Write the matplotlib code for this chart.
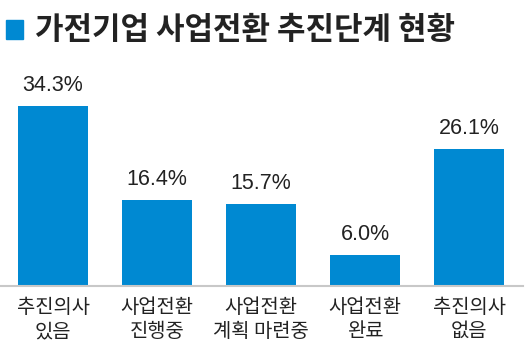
import matplotlib.pyplot as plt
from matplotlib.patches import Rectangle

plt.rcParams['font.family'] = ['Noto Sans CJK KR', 'DejaVu Sans']

categories = ['추진의사\n있음', '사업전환\n진행중', '사업전환\n계획 마련중', '사업전환\n완료', '추진의사\n없음']
values = [34.3, 16.4, 15.7, 6.0, 26.1]
value_labels = ['34.3%', '16.4%', '15.7%', '6.0%', '26.1%']

blue = '#0089d2'
W, H = 531, 354

fig = plt.figure(figsize=(W / 100, H / 100), dpi=100)
ax = fig.add_axes([0, (H - 286) / H, 1, (286 - 60) / H])

x = range(len(values))
bars = ax.bar(x, values, width=70 / 104, color=blue, zorder=2)
ax.set_xlim(-53 / 104, (W - 53) / 104)
ax.set_ylim(0, 34.3 * 226 / 180)

for b, lab in zip(bars, value_labels):
    ax.annotate(lab, (b.get_x() + b.get_width() / 2, b.get_height()),
                xytext=(0, 7), textcoords='offset points', ha='center', va='bottom',
                fontsize=15.5, color='#222222', family=['Liberation Sans', 'DejaVu Sans'])

ax.axhline(0, xmin=0, xmax=523 / W, color='#c8c8c8', linewidth=1.5, zorder=3, clip_on=False)

ax.set_xticks(list(x))
ax.set_xticklabels(categories, fontsize=14.3, color='#222222', linespacing=1.2)
ax.tick_params(axis='x', length=0, pad=8)
ax.set_yticks([])
for s in ax.spines.values():
    s.set_visible(False)

fig.patches.append(Rectangle((6 / W, 1 - 39 / H), 17 / W, 19 / H,
                             transform=fig.transFigure, color=blue))
fig.text(35 / W, 1 - 30 / H, '가전기업 사업전환 추진단계 현황', fontsize=22.3,
         fontweight='bold', color='#222222', va='center', ha='left')

fig.savefig('out.png', dpi=100)
